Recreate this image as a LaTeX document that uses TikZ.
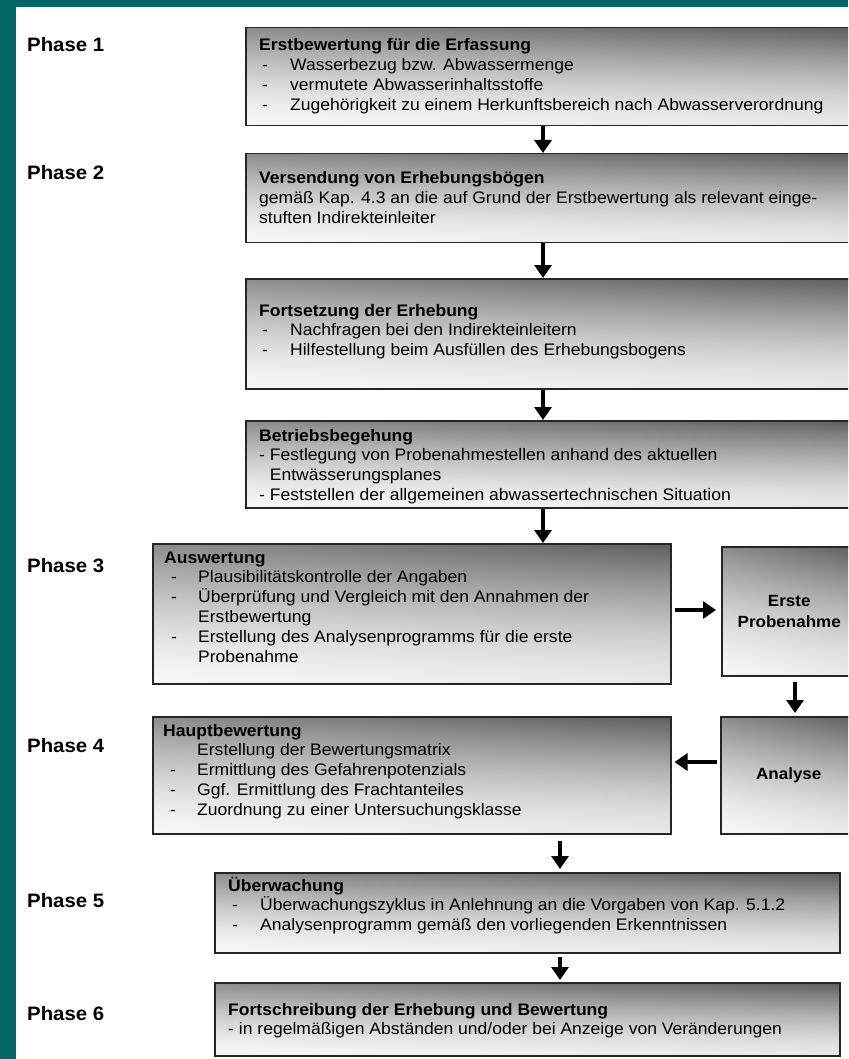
\documentclass[tikz,border=0pt]{standalone}
\usepackage{fontspec}
\setmainfont{Liberation Sans}[FakeStretch=1.05]
\usetikzlibrary{arrows.meta}
\definecolor{teal0}{RGB}{0,101,101}
\pgfdeclarefunctionalshading{boxsh}{\pgfpoint{0bp}{0bp}}{\pgfpoint{100bp}{100bp}}{}{%
  25 sub 50 div dup 0 lt {pop 0} if dup 1 gt {pop 1} if 1.5 exp
  exch 25 sub 50 div dup 0 lt {pop 0} if dup 1 gt {pop 1} if
  dup 0.12 mul 0.42 add 3 -1 roll mul exch 0.06 mul 0.97 exch sub exch sub dup dup}
\newlength\itmw \newlength\itmo
\newcommand\itm[1]{\makebox[\itmw][l]{\hspace{\itmo}-}#1}
\newcommand\hng[1]{\hspace*{\itmw}#1}
\tikzset{
  box/.style={draw=black!85, line width=1.5pt, anchor=north west, inner sep=0pt,
    shade, shading=boxsh},
  txt/.style={anchor=base west, inner sep=0pt, font=\fontsize{16.7}{19.8}\selectfont},
  ctxt/.style={font=\bfseries\fontsize{16.2}{21}\selectfont, align=center},
  phase/.style={anchor=base west, inner sep=0pt, font=\bfseries\fontsize{19.4}{22}\selectfont},
  arr/.style={line width=4.8pt, -{Triangle[length=13pt,width=17pt]}}
}
\begin{document}
\begin{tikzpicture}[x=1pt,y=-1pt]
\useasboundingbox (0,0) rectangle (848,1059);
\clip (0,0) rectangle (848,1059);
\fill[white] (0,0) rectangle (848,1059);
\fill[teal0] (0,0) rectangle (16,1059);
\fill[teal0] (0,0) rectangle (848,7);

% phase labels
\node[phase] (p1) at (27,52) {Phase 1};
\node[phase] (p2) at (27,180) {Phase 2};
\node[phase] (p3) at (27,572) {Phase 3};
\node[phase] (p4) at (27,752) {Phase 4};
\node[phase] (p5) at (27,907) {Phase 5};
\node[phase] (p6) at (27,1020) {Phase 6};

% boxes
\node[box, minimum width=617pt, minimum height=98pt] (b1) at (245,27) {};
\node[box, minimum width=617pt, minimum height=89pt] (b2) at (245,153) {};
\node[box, minimum width=617pt, minimum height=110pt] (b3) at (245,278) {};
\node[box, minimum width=617pt, minimum height=87pt] (b4) at (245,420) {};
\node[box, minimum width=518pt, minimum height=140pt] (ausw) at (152,543) {};
\node[box, minimum width=135pt, minimum height=129pt] (erste) at (721,546) {};
\node[box, minimum width=518pt, minimum height=117pt] (haupt) at (152,716) {};
\node[box, minimum width=136pt, minimum height=117pt] (analyse) at (720,716) {};
\node[box, minimum width=625pt, minimum height=80pt] (ueb) at (214,872) {};
\node[box, minimum width=625pt, minimum height=73pt] (fort) at (214,982) {};

% box texts
\node[txt] (b1t) at (259,51) {\setlength\itmw{31pt}\setlength\itmo{3pt}%
\begin{tabular}[t]{@{}l@{}}
{\bfseries Erstbewertung für die Erfassung}\\
\itm{Wasserbezug bzw. Abwassermenge}\\
\itm{vermutete Abwasserinhaltsstoffe}\\
\itm{Zugehörigkeit zu einem Herkunftsbereich nach Abwasserverordnung}
\end{tabular}};
\node[txt] (b2t) at (259,184) {%
\begin{tabular}[t]{@{}l@{}}
{\bfseries Versendung von Erhebungsbögen}\\
gemäß Kap. 4.3 an die auf Grund der Erstbewertung als relevant einge-\\
stuften Indirekteinleiter
\end{tabular}};
\node[txt] (b3t) at (259,316) {\setlength\itmw{31pt}\setlength\itmo{3pt}%
\begin{tabular}[t]{@{}l@{}}
{\bfseries Fortsetzung der Erhebung}\\
\itm{Nachfragen bei den Indirekteinleitern}\\
\itm{Hilfestellung beim Ausfüllen des Erhebungsbogens}
\end{tabular}};
\node[txt] (b4t) at (259,441) {%
\begin{tabular}[t]{@{}l@{}}
{\bfseries Betriebsbegehung}\\
- Festlegung von Probenahmestellen anhand des aktuellen\\
\phantom{- }Entwässerungsplanes\\
- Feststellen der allgemeinen abwassertechnischen Situation
\end{tabular}};
\node[txt] (auswt) at (164,563) {\setlength\itmw{34pt}\setlength\itmo{7pt}%
\begin{tabular}[t]{@{}l@{}}
{\bfseries Auswertung}\\
\itm{Plausibilitätskontrolle der Angaben}\\
\itm{Überprüfung und Vergleich mit den Annahmen der}\\
\hng{Erstbewertung}\\
\itm{Erstellung des Analysenprogramms für die erste}\\
\hng{Probenahme}
\end{tabular}};
\node[txt] (hauptt) at (163,736) {\setlength\itmw{34pt}\setlength\itmo{7pt}%
\begin{tabular}[t]{@{}l@{}}
{\bfseries Hauptbewertung}\\
\hng{Erstellung der Bewertungsmatrix}\\
\itm{Ermittlung des Gefahrenpotenzials}\\
\itm{Ggf. Ermittlung des Frachtanteiles}\\
\itm{Zuordnung zu einer Untersuchungsklasse}
\end{tabular}};
\node[txt] (uebt) at (228,891) {\setlength\itmw{32pt}\setlength\itmo{4pt}%
\begin{tabular}[t]{@{}l@{}}
{\bfseries Überwachung}\\
\itm{Überwachungszyklus in Anlehnung an die Vorgaben von Kap. 5.1.2}\\
\itm{Analysenprogramm gemäß den vorliegenden Erkenntnissen}
\end{tabular}};
\node[txt] (fortt) at (228,1015) {%
\begin{tabular}[t]{@{}l@{}}
{\bfseries Fortschreibung der Erhebung und Bewertung}\\
- in regelmäßigen Abständen und/oder bei Anzeige von Veränderungen
\end{tabular}};
\node[ctxt] (erstet) at (erste.center) {Erste\\Probenahme};
\node[ctxt] (analyset) at (analyse.center) {Analyse};

% arrow guide coordinates
\coordinate (xA) at (543,0);
\coordinate (xB) at (560,0);
\coordinate (xC) at (795,0);
\coordinate (yD) at (0,610);
\coordinate (yE) at (0,762);

% arrows
\draw[arr] (b1.south -| xA) -- (b2.north -| xA);
\draw[arr] (b2.south -| xA) -- (b3.north -| xA);
\draw[arr] (b3.south -| xA) -- (b4.north -| xA);
\draw[arr] (b4.south -| xA) -- (ausw.north -| xA);
\draw[arr, shorten <=3pt, shorten >=5pt] (ausw.east |- yD) -- (erste.west |- yD);
\draw[arr, shorten <=5pt, shorten >=3pt] (erste.south -| xC) -- (analyse.north -| xC);
\draw[arr, shorten <=3pt, shorten >=3pt] (analyse.west |- yE) -- (haupt.east |- yE);
\draw[arr, shorten <=6pt, shorten >=3pt] (haupt.south -| xB) -- (ueb.north -| xB);
\draw[arr, shorten <=3pt, shorten >=2pt] (ueb.south -| xB) -- (fort.north -| xB);
\end{tikzpicture}
\end{document}
